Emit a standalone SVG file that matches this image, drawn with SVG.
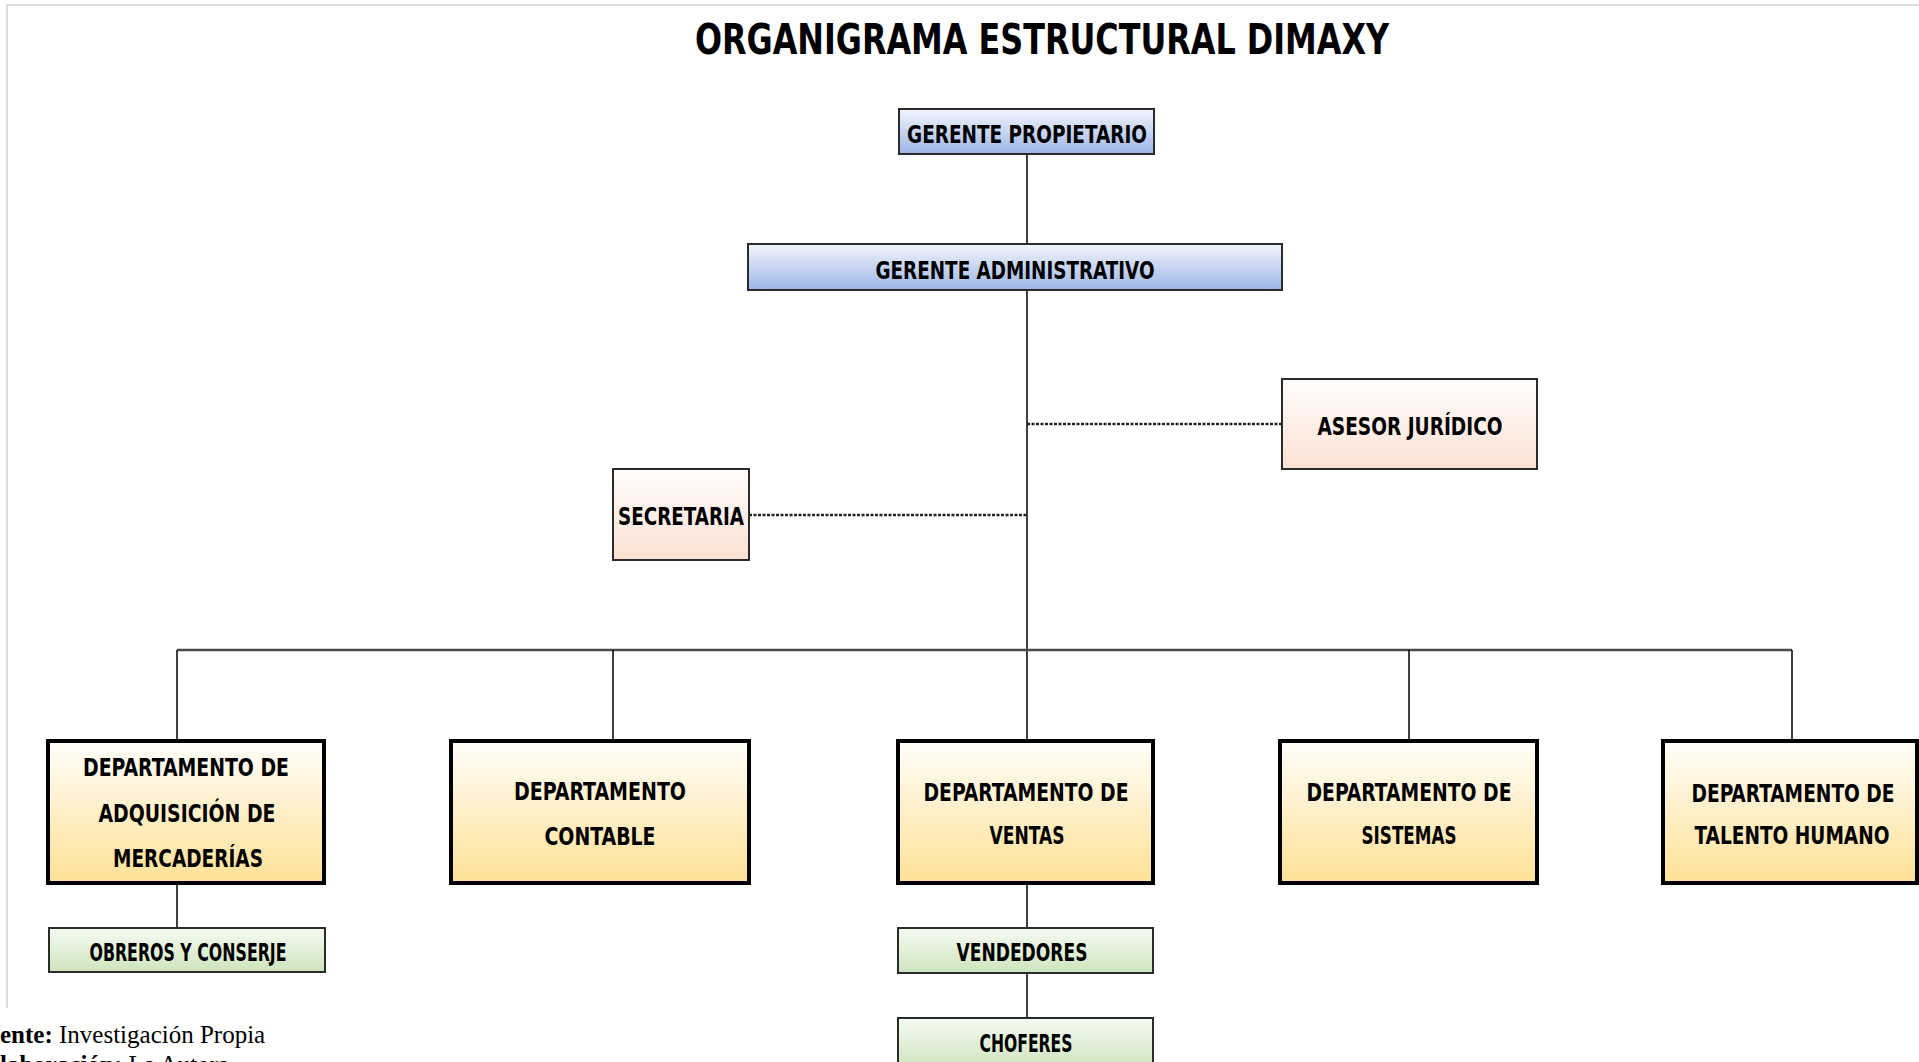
<svg xmlns="http://www.w3.org/2000/svg" width="1919" height="1062" viewBox="0 0 1919 1062">
  <defs>
    <linearGradient id="gBlue" x1="0" y1="0" x2="0" y2="1">
      <stop offset="0" stop-color="#f3f6fc"/>
      <stop offset="1" stop-color="#9db5e5"/>
    </linearGradient>
    <linearGradient id="gPeach" x1="0" y1="0" x2="0" y2="1">
      <stop offset="0" stop-color="#fffdfc"/>
      <stop offset="1" stop-color="#fbe1d3"/>
    </linearGradient>
    <linearGradient id="gYellow" x1="0" y1="0" x2="0" y2="1">
      <stop offset="0" stop-color="#fffefa"/>
      <stop offset="1" stop-color="#ffe196"/>
    </linearGradient>
    <linearGradient id="gGreen" x1="0" y1="0" x2="0" y2="1">
      <stop offset="0" stop-color="#f7fbf4"/>
      <stop offset="1" stop-color="#cde4bd"/>
    </linearGradient>
  </defs>
  <style>
    .lbl { font-family: "DejaVu Sans Condensed", "DejaVu Sans", sans-serif; font-weight: bold; font-size: 25px; fill: #000; text-anchor: middle; }
    .title { font-family: "DejaVu Sans Condensed", "DejaVu Sans", sans-serif; font-weight: bold; font-size: 43px; fill: #000; text-anchor: middle; }
    .foot { font-family: "Liberation Serif", "Times New Roman", serif; font-size: 25px; fill: #000; }
    .thin { stroke: #2b2b2b; stroke-width: 2; }
    .thick { stroke: #000; stroke-width: 4; }
    .conn { stroke: #000; stroke-width: 1.5; fill: none; }
    .bus { stroke: #4a4a4a; stroke-width: 2.5; fill: none; }
    .dash { stroke: #222; stroke-width: 2.5; stroke-dasharray: 3 1.5; fill: none; }
    .frame { stroke: #d4d4d4; stroke-width: 1.5; fill: none; }
  </style>
  <rect x="0" y="0" width="1919" height="1062" fill="#fff"/>
  <path class="frame" d="M7 1008 V5 H1919"/>

  <text class="title" x="1042" y="54" textLength="694" lengthAdjust="spacingAndGlyphs">ORGANIGRAMA ESTRUCTURAL DIMAXY</text>

  <g id="connectors">
    <line class="conn" x1="1027" y1="154" x2="1027" y2="244"/>
    <line class="conn" x1="1027" y1="290" x2="1027" y2="741"/>
    <line class="bus" x1="177" y1="650" x2="1792" y2="650"/>
    <line class="conn" x1="177" y1="650" x2="177" y2="741"/>
    <line class="conn" x1="613" y1="650" x2="613" y2="741"/>
    <line class="conn" x1="1409" y1="650" x2="1409" y2="741"/>
    <line class="conn" x1="1792" y1="650" x2="1792" y2="741"/>
    <line class="conn" x1="177" y1="883" x2="177" y2="928"/>
    <line class="conn" x1="1027" y1="883" x2="1027" y2="928"/>
    <line class="conn" x1="1027" y1="973" x2="1027" y2="1018"/>
    <line class="dash" x1="1027" y1="424" x2="1282" y2="424"/>
    <line class="dash" x1="749" y1="515" x2="1027" y2="515"/>
  </g>

  <g id="gerente-propietario">
    <rect class="thin" x="899" y="109" width="255" height="45" fill="url(#gBlue)"/>
    <text class="lbl" x="1027" y="143" textLength="240" lengthAdjust="spacingAndGlyphs">GERENTE PROPIETARIO</text>
  </g>
  <g id="gerente-administrativo">
    <rect class="thin" x="748" y="244" width="534" height="46" fill="url(#gBlue)"/>
    <text class="lbl" x="1015" y="279" textLength="279" lengthAdjust="spacingAndGlyphs">GERENTE ADMINISTRATIVO</text>
  </g>
  <g id="asesor-juridico">
    <rect class="thin" x="1282" y="379" width="255" height="90" fill="url(#gPeach)"/>
    <text class="lbl" x="1410" y="435" textLength="185" lengthAdjust="spacingAndGlyphs">ASESOR JURÍDICO</text>
  </g>
  <g id="secretaria">
    <rect class="thin" x="613" y="469" width="136" height="91" fill="url(#gPeach)"/>
    <text class="lbl" x="681" y="525" textLength="126" lengthAdjust="spacingAndGlyphs">SECRETARIA</text>
  </g>

  <g id="dep-adquisicion">
    <rect class="thick" x="48" y="741" width="276" height="142" fill="url(#gYellow)"/>
    <text class="lbl" x="186" y="776" textLength="206" lengthAdjust="spacingAndGlyphs">DEPARTAMENTO DE</text>
    <text class="lbl" x="187" y="822" textLength="177" lengthAdjust="spacingAndGlyphs">ADQUISICIÓN DE</text>
    <text class="lbl" x="188" y="867" textLength="150" lengthAdjust="spacingAndGlyphs">MERCADERÍAS</text>
  </g>
  <g id="dep-contable">
    <rect class="thick" x="451" y="741" width="298" height="142" fill="url(#gYellow)"/>
    <text class="lbl" x="600" y="800" textLength="172" lengthAdjust="spacingAndGlyphs">DEPARTAMENTO</text>
    <text class="lbl" x="600" y="845" textLength="111" lengthAdjust="spacingAndGlyphs">CONTABLE</text>
  </g>
  <g id="dep-ventas">
    <rect class="thick" x="898" y="741" width="255" height="142" fill="url(#gYellow)"/>
    <text class="lbl" x="1026" y="801" textLength="205" lengthAdjust="spacingAndGlyphs">DEPARTAMENTO DE</text>
    <text class="lbl" x="1027" y="844" textLength="75" lengthAdjust="spacingAndGlyphs">VENTAS</text>
  </g>
  <g id="dep-sistemas">
    <rect class="thick" x="1280" y="741" width="257" height="142" fill="url(#gYellow)"/>
    <text class="lbl" x="1409" y="801" textLength="205" lengthAdjust="spacingAndGlyphs">DEPARTAMENTO DE</text>
    <text class="lbl" x="1409" y="844" textLength="95" lengthAdjust="spacingAndGlyphs">SISTEMAS</text>
  </g>
  <g id="dep-talento">
    <rect class="thick" x="1663" y="741" width="254" height="142" fill="url(#gYellow)"/>
    <text class="lbl" x="1793" y="802" textLength="203" lengthAdjust="spacingAndGlyphs">DEPARTAMENTO DE</text>
    <text class="lbl" x="1792" y="844" textLength="195" lengthAdjust="spacingAndGlyphs">TALENTO HUMANO</text>
  </g>

  <g id="obreros">
    <rect class="thin" x="49" y="928" width="276" height="44" fill="url(#gGreen)"/>
    <text class="lbl" x="188" y="961" textLength="197" lengthAdjust="spacingAndGlyphs">OBREROS Y CONSERJE</text>
  </g>
  <g id="vendedores">
    <rect class="thin" x="898" y="928" width="255" height="45" fill="url(#gGreen)"/>
    <text class="lbl" x="1022" y="961" textLength="131" lengthAdjust="spacingAndGlyphs">VENDEDORES</text>
  </g>
  <g id="choferes">
    <rect class="thin" x="898" y="1018" width="255" height="50" fill="url(#gGreen)"/>
    <text class="lbl" x="1026" y="1052" textLength="93" lengthAdjust="spacingAndGlyphs">CHOFERES</text>
  </g>

  <text class="foot" x="0" y="1043"><tspan font-weight="bold">ente:</tspan> <tspan>Investigación Propia</tspan></text>
  <text class="foot" x="0" y="1073"><tspan font-weight="bold">laboración:</tspan> <tspan>La Autora</tspan></text>
</svg>
